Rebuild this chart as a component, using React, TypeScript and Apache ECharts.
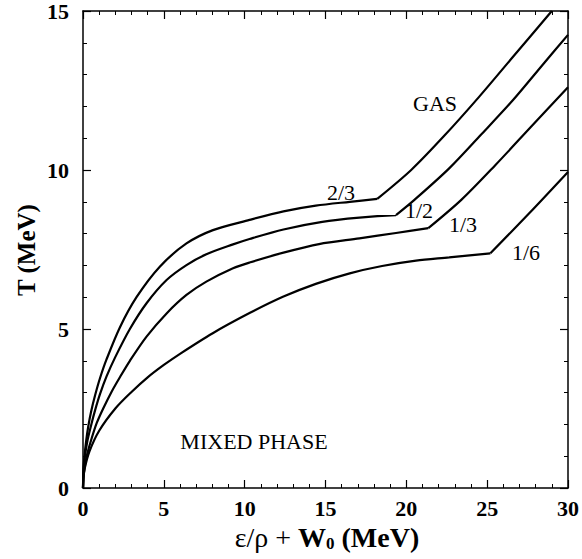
import React, { useEffect, useRef } from "react";
import * as echarts from "echarts";

// x: ε/ρ + W0 (MeV), y: T (MeV)
const xTicks = [0, 5, 10, 15, 20, 25, 30];
const yTicks = [0, 5, 10, 15];

const curve23Mixed = [[0, 0], [0.03, 0.6], [0.09, 1.0], [0.2, 1.5], [0.33, 1.95], [0.5, 2.4], [0.74, 2.9], [1.05, 3.45], [1.46, 4.05], [2.28, 5.05], [3.31, 6.0], [4.75, 6.96], [6.4, 7.69], [8.04, 8.11], [10.3, 8.43], [12.4, 8.7], [14.4, 8.88], [16.5, 9.0], [18.2, 9.09]];
const curve23Gas = [[18.2, 9.09], [20.3, 10.0], [22.3, 11.05], [24.5, 12.3], [26.6, 13.56], [29.0, 15.0]];

const curve12Mixed = [[0, 0], [0.03, 0.5], [0.12, 1.0], [0.28, 1.5], [0.53, 2.03], [0.75, 2.45], [1.05, 2.95], [1.45, 3.5], [1.98, 4.1], [2.9, 5.0], [3.93, 5.81], [5.17, 6.54], [6.4, 7.01], [7.63, 7.35], [9.28, 7.66], [10.3, 7.83], [12.4, 8.13], [14.8, 8.37], [17.1, 8.5], [19.36, 8.58]];
const curve12Gas = [[19.36, 8.58], [20.5, 9.06], [22.65, 10.05], [24.6, 11.1], [26.6, 12.2], [28.5, 13.35], [30, 14.25]];

const curve13Mixed = [[0, 0], [0.05, 0.45], [0.23, 1.0], [0.5, 1.5], [0.84, 2.03], [1.25, 2.5], [1.77, 3.03], [2.3, 3.5], [2.9, 4.0], [3.93, 4.76], [5.17, 5.49], [6.4, 6.07], [7.63, 6.49], [9.28, 6.91], [10.3, 7.09], [12.4, 7.4], [14.6, 7.67], [17.1, 7.85], [19.36, 8.02], [21.36, 8.17]];
const curve13Gas = [[21.36, 8.17], [23.4, 9.06], [25.5, 10.15], [27.7, 11.35], [30, 12.6]];

const curve16Mixed = [[0, 0], [0.03, 0.3], [0.1, 0.6], [0.4, 1.15], [1.0, 1.8], [2.0, 2.5], [3.0, 3.02], [4.0, 3.48], [5.0, 3.87], [6.0, 4.22], [8.0, 4.86], [10.3, 5.5], [12.4, 6.02], [14.4, 6.42], [16.5, 6.75], [18.5, 6.98], [20.6, 7.15], [22.65, 7.25], [25.2, 7.38]];
const curve16Gas = [[25.2, 7.38], [27.6, 8.64], [30, 9.94]];

const curveLabels = ["2/3", "1/2", "1/3", "1/6"];
const regionLabels = ["GAS", "MIXED PHASE"];

const FONT = "Liberation Serif, Times New Roman, serif";

export default function App() {
  const ref = useRef<HTMLDivElement>(null);
  useEffect(() => {
    if (!ref.current) return;
    const chart = echarts.init(ref.current, undefined, { renderer: "svg" });
    const lineSeries = (data: number[][], smooth: number | boolean) => ({
      type: "line",
      data,
      symbol: "none",
      smooth,
      lineStyle: { color: "#000", width: 2.2 },
      itemStyle: { color: "#000" },
      z: 3,
    });
    const axisCommon = {
      type: "value",
      axisLine: { show: true, onZero: false, lineStyle: { color: "#000", width: 1.5 } },
      axisTick: { show: true, inside: true, length: 8, lineStyle: { color: "#000", width: 1.2 } },
      minorTick: { show: true, splitNumber: 5, length: 4, lineStyle: { color: "#000", width: 1 } },
      splitLine: { show: false },
      minorSplitLine: { show: false },
    };
    const txt = (s: string, x: number, y: number) => ({
      type: "text",
      x,
      y,
      style: { text: s, font: `22px ${FONT}`, fill: "#000", textAlign: "center", textVerticalAlign: "middle" },
    });
    chart.setOption({
      animation: false,
      backgroundColor: "#fff",
      grid: { left: 83, top: 11, right: 13, bottom: 71, containLabel: false },
      xAxis: [
        {
          ...axisCommon,
          position: "bottom",
          min: xTicks[0],
          max: xTicks[xTicks.length - 1],
          interval: 5,
          axisLabel: { show: true, margin: 9, fontFamily: FONT, fontWeight: "bold", fontSize: 22, color: "#000" },
        },
        {
          ...axisCommon,
          position: "top",
          min: xTicks[0],
          max: xTicks[xTicks.length - 1],
          interval: 5,
          axisLabel: { show: false },
        },
      ],
      yAxis: [
        {
          ...axisCommon,
          position: "left",
          min: yTicks[0],
          max: yTicks[yTicks.length - 1],
          interval: 5,
          axisLabel: { show: true, margin: 14, fontFamily: FONT, fontWeight: "bold", fontSize: 22, color: "#000" },
        },
        {
          ...axisCommon,
          position: "right",
          min: yTicks[0],
          max: yTicks[yTicks.length - 1],
          interval: 5,
          axisLabel: { show: false },
        },
      ],
      series: [
        lineSeries(curve23Mixed, 0.3),
        lineSeries(curve23Gas, 0.3),
        lineSeries(curve12Mixed, 0.3),
        lineSeries(curve12Gas, 0.3),
        lineSeries(curve13Mixed, 0.3),
        lineSeries(curve13Gas, 0.3),
        lineSeries(curve16Mixed, 0.3),
        lineSeries(curve16Gas, 0.3),
      ],
      graphic: [
        txt(curveLabels[0], 341, 192),
        txt(curveLabels[1], 419, 210),
        txt(curveLabels[2], 463, 224),
        txt(curveLabels[3], 526, 252),
        txt(regionLabels[0], 435, 103),
        txt(regionLabels[1], 254, 441),
        {
          type: "text",
          x: 26,
          y: 250,
          rotation: Math.PI / 2,
          style: { text: "T (MeV)", font: `bold 25px ${FONT}`, fill: "#000", textAlign: "center", textVerticalAlign: "middle" },
        },
        {
          type: "text",
          x: 327,
          y: 537,
          style: {
            text: "{a|ε/ρ + }{b|W}{c|0}{b| (MeV)}",
            textAlign: "center",
            textVerticalAlign: "middle",
            fill: "#000",
            rich: {
              a: { fontFamily: FONT, fontSize: 28, fontWeight: "normal", lineHeight: 30, verticalAlign: "middle", fill: "#000" },
              b: { fontFamily: FONT, fontSize: 28, fontWeight: "bold", lineHeight: 30, verticalAlign: "middle", fill: "#000" },
              c: { fontFamily: FONT, fontSize: 17, fontWeight: "bold", lineHeight: 14, verticalAlign: "bottom", fill: "#000" },
            },
          },
        },
      ],
    });
    return () => chart.dispose();
  }, []);
  return <div ref={ref} style={{ width: 582, height: 559, position: "absolute", left: 0, top: 0 }} />;
}
